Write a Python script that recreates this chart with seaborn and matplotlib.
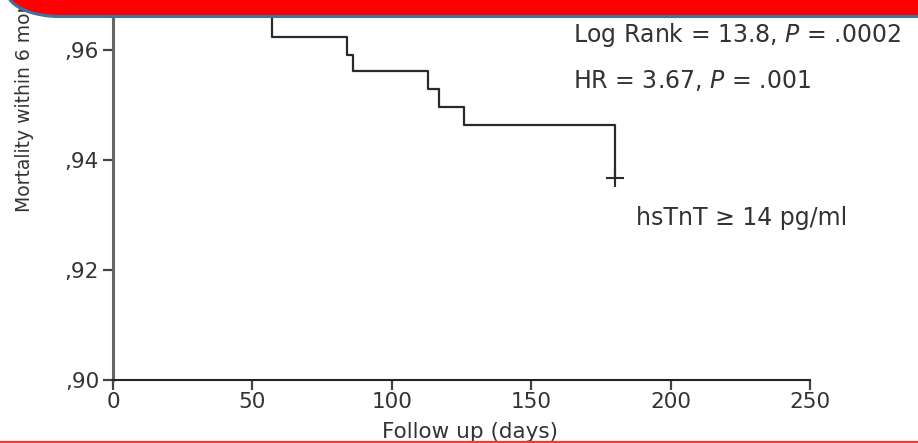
import numpy as np
import matplotlib
matplotlib.use("Agg")
import matplotlib.pyplot as plt
from matplotlib.patches import Polygon
import seaborn as sns

# Kaplan-Meier step curve (hsTnT >= 14 pg/ml group)
days = [0, 57, 84, 86, 113, 117, 126, 180]
survival = [0.9661, 0.9623, 0.9591, 0.9561, 0.9529, 0.9497, 0.9464, 0.9367]
censor_day = [180]
censor_surv = [0.9367]

x_ticks = [0, 50, 100, 150, 200, 250]
y_ticks = [0.90, 0.92, 0.94, 0.96]
y_tick_labels = [",90", ",92", ",94", ",96"]

sns.set_style("ticks")
plt.rcParams["font.family"] = ["DejaVu Sans"]
plt.rcParams["mathtext.fontset"] = "dejavusans"

W, H = 918, 443
fig = plt.figure(figsize=(W / 100, H / 100), dpi=100)
fig.patch.set_facecolor("white")

# axes placed in pixel terms: y-axis at x=113, x-axis at y=380 from top
ax = fig.add_axes([113 / W, 63 / H, (810 - 113) / W, 380 / H])
ax.set_facecolor("white")

sns.lineplot(x=days, y=survival, drawstyle="steps-post", sort=False,
             estimator=None, color="#2a2a2a", linewidth=1.6, ax=ax)
sns.scatterplot(x=censor_day, y=censor_surv, marker="+", s=170,
                color="#2a2a2a", linewidth=1.5, ax=ax, zorder=5)

ax.set_xlim(0, 250)
ax.set_ylim(0.90, 0.90 + 380 / 5500)
ax.set_xticks(x_ticks)
ax.set_yticks(y_ticks)
ax.set_yticklabels(y_tick_labels)
ax.tick_params(axis="both", labelsize=15.5, colors="#444444", length=7, width=1.6)
ax.tick_params(axis="y", pad=3)
ax.tick_params(axis="x", pad=2)
for lab in ax.get_xticklabels() + ax.get_yticklabels():
    lab.set_color("#333333")
ax.spines["top"].set_visible(False)
ax.spines["right"].set_visible(False)
ax.spines["left"].set_color("#666666")
ax.spines["left"].set_linewidth(2.2)
ax.spines["bottom"].set_color("#222222")
ax.spines["bottom"].set_linewidth(1.5)
ax.set_xlabel("")
ax.set_ylabel("")

txt_kw = dict(fontsize=17, color="#333333", va="baseline", ha="left")
ax.text(165, 0.9615, "Log Rank = 13.8, $P$ = .0002", **txt_kw)
ax.text(165, 0.9531, "HR = 3.67, $P$ = .001", **txt_kw)
ax.text(187.6, 0.9282, "hsTnT \u2265 14 pg/ml", **txt_kw)

# axis titles as figure text (pixel positions); the y title runs under the banner
fig.text(25 / W, 1 - 212 / H, "Mortality within 6 months", rotation=90,
         ha="center", va="bottom", fontsize=13.5, color="#333333")
fig.text(470 / W, 1 - 442 / H, "Follow up (days)", ha="center", va="bottom",
         fontsize=15.5, color="#333333")

# slide decoration: red title banner with rounded corner, red rule at bottom
over = fig.add_axes([0, 0, 1, 1], zorder=10)
over.set_xlim(0, W)
over.set_ylim(H, 0)
over.axis("off")
over.patch.set_alpha(0)

ang = np.linspace(np.pi / 2, np.pi, 40)
cx, cy, rx, ry = 60, -8.5, 53, 25
arc = np.column_stack([cx + rx * np.cos(ang), cy + ry * np.sin(ang)])
pts = np.vstack([[[W + 20, -30], [W + 20, cy + ry]], arc, [[cx - rx, -30]]])
over.add_patch(Polygon(pts, closed=True, facecolor="#FF0000",
                       edgecolor="#41719C", linewidth=2.2))
over.plot([0, W], [441.5, 441.5], color="#F03A3A", linewidth=1.6)

fig.savefig("out.png", dpi=100)
